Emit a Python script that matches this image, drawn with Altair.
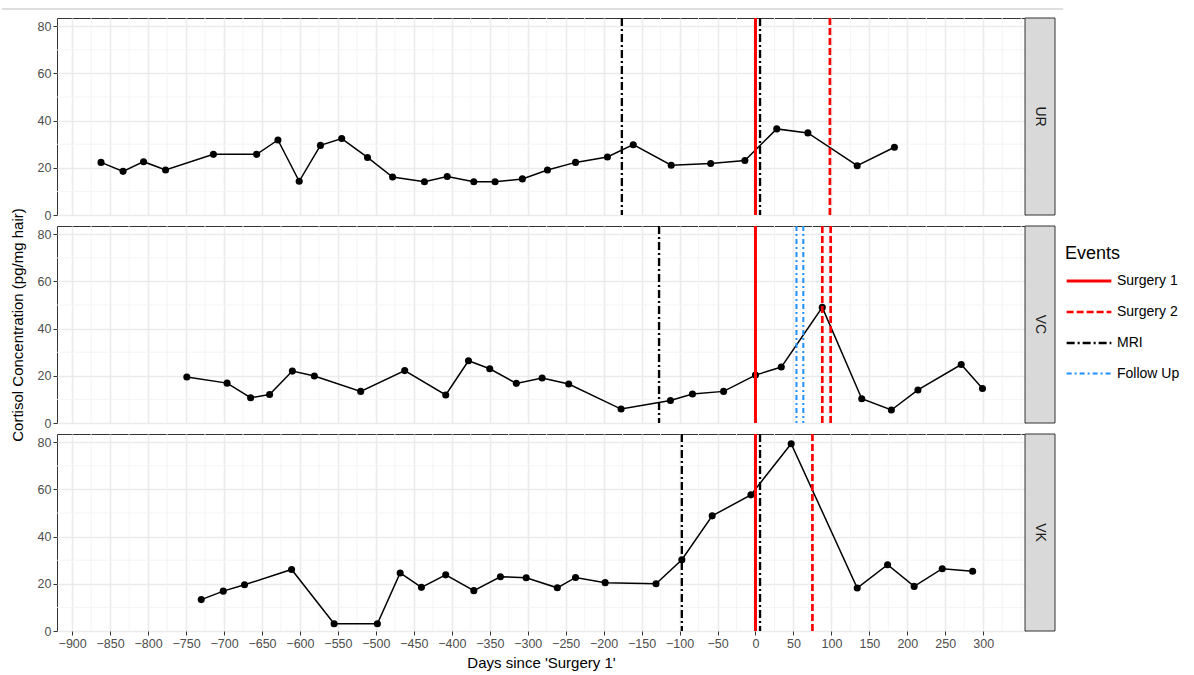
import altair as alt
import pandas as pd

# ---------------- data ----------------
ur_days = [-862, -833, -806, -777, -714, -657, -629, -601, -573, -545, -511, -478, -436, -406,
           -371, -343, -307, -274, -237, -195, -161, -111, -59, -14, 28, 69, 134, 183]
ur_vals = [22.3, 18.5, 22.6, 19.1, 25.7, 25.7, 31.8, 14.3, 29.5, 32.4, 24.4, 16.1, 14.1, 16.3,
           14.1, 14.1, 15.3, 19.1, 22.3, 24.6, 29.8, 21.1, 21.8, 23.1, 36.5, 34.8, 20.9, 28.7]

vc_days = [-749, -696, -665, -640, -610, -581, -520, -462, -408, -378, -350, -315, -281, -246,
           -177, -112, -83, -42, 0, 34, 88, 140, 179, 214, 271, 299]
vc_vals = [19.5, 16.9, 10.7, 12.1, 22.0, 19.9, 13.4, 22.2, 11.9, 26.4, 23.0, 16.8, 19.1, 16.5,
           5.9, 9.5, 12.3, 13.4, 20.3, 23.7, 49.0, 10.3, 5.5, 14.0, 24.8, 14.6]

vk_days = [-730, -701, -673, -611, -555, -498, -468, -440, -408, -371, -336, -302, -261, -237,
           -198, -131, -97, -57, -6, 47, 134, 174, 209, 246, 286]
vk_vals = [13.3, 16.9, 19.6, 26.1, 3.1, 3.1, 24.6, 18.5, 23.8, 17.1, 23.0, 22.6, 18.3, 22.7,
           20.5, 20.0, 30.2, 48.8, 57.7, 79.4, 18.2, 28.1, 18.9, 26.4, 25.3]

ur_event_days = [-176, 0, 6, 98]
ur_event_names = ["MRI", "Surgery 1", "MRI", "Surgery 2"]
vc_event_days = [-127, 0, 54, 63, 88, 99]
vc_event_names = ["MRI", "Surgery 1", "Follow Up", "Follow Up", "Surgery 2", "Surgery 2"]
vk_event_days = [-97, 0, 6, 75]
vk_event_names = ["MRI", "Surgery 1", "MRI", "Surgery 2"]

panels = ["UR", "VC", "VK"]
event_order = ["Surgery 1", "Surgery 2", "MRI", "Follow Up"]
event_colors = ["#FF0000", "#FF0000", "#000000", "#1E90FF"]
event_dashes = [[1, 0], [7, 3], [8, 3, 2, 3], [5, 3, 2, 3]]
event_widths = [3, 2, 2, 1.5]

x_ticks = list(range(-900, 301, 50))
x_minor = list(range(-875, 351, 50)) + [350]
y_ticks = [0, 20, 40, 60, 80]
y_minor = [10, 30, 50, 70]

# ---------------- layout constants ----------------
W, H = 968, 197
FONT = "Liberation Sans"
x_scale = alt.Scale(domain=[-920, 355], nice=False, zero=False)
y_scale = alt.Scale(domain=[0, 83.5], nice=False, zero=False)


def panel(days, vals, ev_days, ev_names, idx):
    df = pd.DataFrame({"day": days, "val": vals})
    ev = pd.DataFrame({"day": ev_days, "event": ev_names})
    bottom = idx == 2
    if bottom:
        xaxis = alt.Axis(values=x_ticks, title="Days since 'Surgery 1'", labelPadding=2,
                         titlePadding=6, labelFlush=False, domain=False)
    else:
        xaxis = alt.Axis(values=x_ticks, labels=False, ticks=False, title=None, domain=False)
    ytitle = "Cortisol Concentration (pg/mg hair)" if idx == 1 else None
    yaxis = alt.Axis(values=y_ticks, title=ytitle, titlePadding=12, labelPadding=2, domain=False)

    mx = alt.Chart(pd.DataFrame({"m": x_minor})).mark_rule(color="#F3F3F3", strokeWidth=0.9).encode(
        x=alt.X("m:Q", scale=x_scale, axis=xaxis))
    my = alt.Chart(pd.DataFrame({"m": y_minor})).mark_rule(color="#F3F3F3", strokeWidth=0.9).encode(
        y=alt.Y("m:Q", scale=y_scale, axis=yaxis))
    base = alt.Chart(df).encode(
        x=alt.X("day:Q", scale=x_scale, axis=xaxis),
        y=alt.Y("val:Q", scale=y_scale, axis=yaxis))
    line = base.mark_line(color="black", strokeWidth=1.5)
    pts = base.mark_point(filled=True, size=50, color="black", opacity=1)
    rules = alt.Chart(ev).mark_rule().encode(
        x=alt.X("day:Q", scale=x_scale, axis=xaxis),
        color=alt.Color("event:N", scale=alt.Scale(domain=event_order, range=event_colors),
                        sort=event_order,
                        legend=alt.Legend(title="Events", orient="none", legendX=1008, legendY=227,
                                          symbolType="stroke", symbolSize=2000, symbolStrokeWidth=2,
                                          titleFontSize=18, titleFont=FONT, titleFontWeight="normal",
                                          titleColor="black", labelFontSize=14, labelFont=FONT,
                                          labelColor="black", rowPadding=0, titlePadding=-6,
                                          labelOffset=4)),
        strokeDash=alt.StrokeDash("event:N", scale=alt.Scale(domain=event_order, range=event_dashes),
                                  sort=event_order),
        strokeWidth=alt.StrokeWidth("event:N", scale=alt.Scale(domain=event_order, range=event_widths),
                                    sort=event_order))

    sd = pd.DataFrame({"lab": [panels[idx]]})
    strip_bg = alt.Chart(sd).mark_rect(fill="#D9D9D9", stroke="#333333", strokeWidth=1,
                                       clip=False).encode(
        x=alt.value(W), x2=alt.value(W + 30), y=alt.value(0), y2=alt.value(H))
    strip_tx = alt.Chart(sd).mark_text(angle=90, fontSize=14, font=FONT, color="#1A1A1A",
                                       clip=False).encode(
        x=alt.value(W + 15), y=alt.value(H / 2), text="lab:N")

    layers = [mx, my, line, pts, rules, strip_bg, strip_tx]
    if idx == 0:
        top_line = alt.Chart(pd.DataFrame({"a": [0]})).mark_rule(
            color="#D3D3D3", strokeWidth=1.5).encode(
            x=alt.value(-55), x2=alt.value(1006), y=alt.value(-9))
        layers.append(top_line)
    return alt.layer(*layers).properties(width=W, height=H)


all_data = [(ur_days, ur_vals, ur_event_days, ur_event_names),
            (vc_days, vc_vals, vc_event_days, vc_event_names),
            (vk_days, vk_vals, vk_event_days, vk_event_names)]
rows = [panel(d, v, ed, en, i) for i, (d, v, ed, en) in enumerate(all_data)]

chart = alt.vconcat(*rows, spacing=11, bounds="flush").properties(
    padding={"left": 0, "top": 7, "right": 5, "bottom": 5},
    background="white"
).configure_view(
    stroke="#333333", strokeWidth=1
).configure_axis(
    gridColor="#EBEBEB", gridWidth=1.6, tickColor="#333333", tickSize=4, tickWidth=1,
    labelColor="#4D4D4D", labelFontSize=12.5, labelFont=FONT,
    titleFont=FONT, titleFontSize=15, titleColor="black", titleFontWeight="normal"
)

chart.save("out.html", embed_options={"renderer": "svg", "actions": False})
